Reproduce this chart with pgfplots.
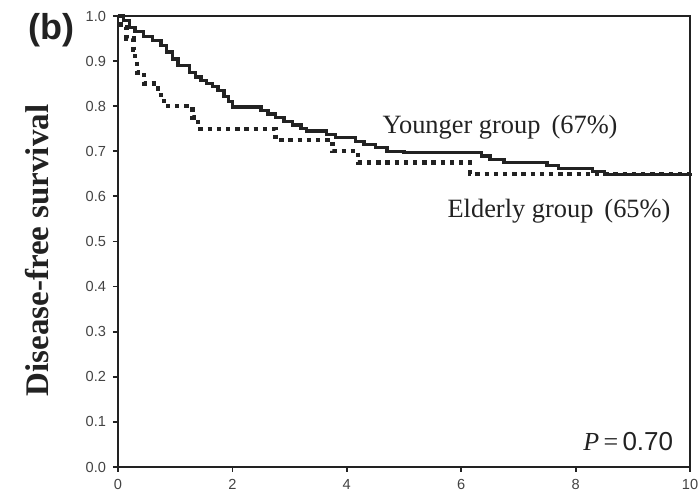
\documentclass[border=0pt]{standalone}
\usepackage{fontspec}
\setmainfont{Liberation Serif}
\setsansfont{Liberation Sans}
\usepackage{pgfplots}
\pgfplotsset{compat=1.18}

\definecolor{ink}{HTML}{222222}

\begin{document}
\begin{tikzpicture}
\useasboundingbox (-59pt,-17.5pt) rectangle (291pt,233.5pt);
\begin{axis}[
  scale only axis,
  width=286pt, height=225.5pt,
  xmin=0, xmax=10, ymin=0, ymax=1,
  xtick={0,2,...,10}, ytick={0,0.1,...,1.0},
  yticklabel style={/pgf/number format/.cd,fixed,fixed zerofill,precision=1},
  tick label style={font=\sffamily\fontsize{7.3}{8}\selectfont, text=ink!85},
  /pgf/number format/assume math mode=true,
  tick align=outside, tick pos=left,
  major tick length=2.5pt,
  every tick/.style={ink, line width=0.9pt},
  axis line style={ink, line width=1.4pt},
  clip=false,
]
% Younger group
\addplot[const plot, ink, line width=1.7pt] coordinates {
(0,1.0)(0.1,0.99)(0.2,0.975)(0.3,0.965)(0.45,0.955)(0.6,0.945)(0.75,0.935)
(0.85,0.92)(0.95,0.905)(1.05,0.89)(1.25,0.875)(1.35,0.865)(1.45,0.857)
(1.55,0.85)(1.65,0.843)(1.75,0.835)(1.85,0.822)(1.93,0.81)(2.0,0.798)
(2.5,0.79)(2.62,0.783)(2.75,0.775)(2.9,0.766)(3.05,0.758)(3.2,0.75)
(3.3,0.745)(3.65,0.737)(3.8,0.73)(4.15,0.722)(4.3,0.715)(4.5,0.708)
(4.7,0.7)(5.0,0.697)(6.35,0.69)(6.5,0.682)(6.75,0.675)(7.5,0.668)
(7.7,0.662)(8.3,0.655)(8.5,0.648)(10,0.645)};
% Elderly group
\addplot[const plot, ink, line width=2.2pt, dash pattern=on 2.2pt off 2.4pt] coordinates {
(0,1.0)(0.05,0.975)(0.15,0.95)(0.27,0.925)(0.3,0.9)(0.33,0.875)
(0.45,0.85)(0.7,0.825)(0.8,0.8)(1.3,0.775)(1.4,0.75)(2.75,0.725)
(3.75,0.70)(4.2,0.675)(6.15,0.65)(10,0.65)};

\node[font=\fontsize{13.2}{15}\selectfont, text=ink] at (axis cs:6.68,0.753) {Younger group\, (67\%)};
\node[font=\fontsize{13.2}{15}\selectfont, text=ink] at (axis cs:7.71,0.567) {Elderly group\, (65\%)};
\node[font=\fontsize{13}{15}\selectfont, text=ink] at (axis cs:8.92,0.057) {\textit{P}\,=\,\textsf{0.70}};
\node[font=\sffamily\bfseries\fontsize{18}{20}\selectfont, text=ink] at (axis cs:-1.17,0.968) {(b)};
\node[font=\bfseries\fontsize{16.5}{18}\selectfont, text=ink, rotate=90] at (axis cs:-1.42,0.48) {Disease-free survival};
\end{axis}
\end{tikzpicture}
\end{document}
